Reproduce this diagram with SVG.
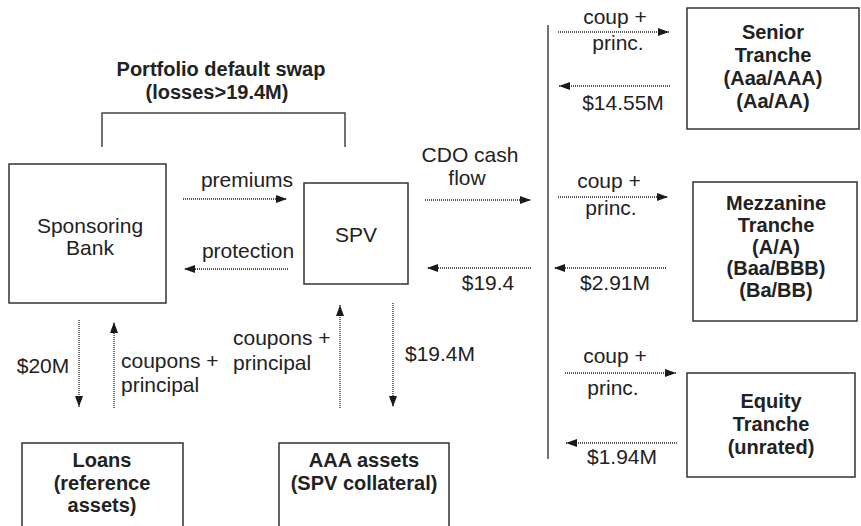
<svg xmlns="http://www.w3.org/2000/svg" width="861" height="526" viewBox="0 0 861 526">
<defs>
<marker id="ah" viewBox="0 0 11 8" refX="11" refY="4" markerWidth="11" markerHeight="8" markerUnits="userSpaceOnUse" orient="auto">
<path d="M0,0 L11,4 L0,8 z" fill="#1a1a1a"/>
</marker>
<style>
.box{fill:#fff;stroke:#333;stroke-width:1.5}
.open{fill:none;stroke:#333;stroke-width:1.5}
.solid{fill:none;stroke:#444;stroke-width:1.5}
.dot{fill:none;stroke:#222;stroke-width:1.3;stroke-dasharray:1 1;marker-end:url(#ah)}
text{font-family:"Liberation Sans",Arial,sans-serif;fill:#222}
.r{font-size:21px}
.b{font-size:20px;font-weight:bold}
.m{text-anchor:middle}
</style>
</defs>
<rect width="861" height="526" fill="#fff"/>

<g id="connectors">
<path class="solid" d="M102,147 V113 H345 V147"/>
<text class="b m" x="221" y="76">Portfolio default swap</text>
<text class="b m" x="217" y="99">(losses&gt;19.4M)</text>
<path class="solid" d="M548,25 V459"/>

<path class="dot" d="M183,199 H287"/>
<text class="r m" x="247" y="187">premiums</text>
<path class="dot" d="M288,269 H184"/>
<text class="r m" x="248" y="258">protection</text>

<path class="dot" d="M425,200 H531"/>
<text class="r m" x="470" y="162">CDO cash</text>
<text class="r m" x="467" y="185">flow</text>
<path class="dot" d="M531,268 H427"/>
<text class="r m" x="488" y="290">$19.4</text>

<path class="dot" d="M558,32 H669"/>
<text class="r m" x="615" y="24">coup +</text>
<text class="r m" x="618" y="50">princ.</text>
<path class="dot" d="M670,86 H559"/>
<text class="r m" x="623" y="110">$14.55M</text>

<path class="dot" d="M558,197 H668"/>
<text class="r m" x="609" y="188">coup +</text>
<text class="r m" x="611" y="215">princ.</text>
<path class="dot" d="M666,268 H554"/>
<text class="r m" x="615" y="290">$2.91M</text>

<path class="dot" d="M565,373 H676"/>
<text class="r m" x="615" y="363">coup +</text>
<text class="r m" x="613" y="395">princ.</text>
<path class="dot" d="M677,443 H566"/>
<text class="r m" x="622" y="464">$1.94M</text>

<path class="dot" d="M79,320 V407"/>
<text class="r m" x="43" y="373">$20M</text>
<path class="dot" d="M114,408 V322"/>
<text class="r" x="121" y="368">coupons +</text>
<text class="r" x="121" y="392">principal</text>
<path class="dot" d="M340,408 V305"/>
<text class="r" x="233" y="345">coupons +</text>
<text class="r" x="233" y="370">principal</text>
<path class="dot" d="M393,303 V407"/>
<text class="r" x="405" y="361">$19.4M</text>
</g>

<g id="bank">
<rect class="box" x="9" y="164" width="157" height="139"/>
<text class="r m" x="90" y="233">Sponsoring</text>
<text class="r m" x="90" y="255">Bank</text>
</g>

<g id="spv">
<rect class="box" x="304" y="183" width="104" height="101"/>
<text class="r m" x="356" y="242">SPV</text>
</g>

<g id="senior">
<rect class="box" x="687" y="8" width="172" height="121"/>
<text class="b m" x="773" y="38.5">Senior</text>
<text class="b m" x="773" y="61.5">Tranche</text>
<text class="b m" x="773" y="84.5">(Aaa/AAA)</text>
<text class="b m" x="773" y="107.5">(Aa/AA)</text>
</g>

<g id="mezzanine">
<rect class="box" x="693" y="182" width="164" height="139"/>
<text class="b m" x="776" y="210">Mezzanine</text>
<text class="b m" x="776" y="232">Tranche</text>
<text class="b m" x="776" y="253.5">(A/A)</text>
<text class="b m" x="776" y="275">(Baa/BBB)</text>
<text class="b m" x="776" y="297">(Ba/BB)</text>
</g>

<g id="equity">
<rect class="box" x="687" y="373" width="168" height="104"/>
<text class="b m" x="771" y="408">Equity</text>
<text class="b m" x="771" y="431">Tranche</text>
<text class="b m" x="771" y="454">(unrated)</text>
</g>

<g id="loans">
<path class="open" d="M22,530 V443 H183 V530"/>
<text class="b m" x="102" y="467">Loans</text>
<text class="b m" x="102" y="490">(reference</text>
<text class="b m" x="102" y="512">assets)</text>
</g>

<g id="aaa">
<path class="open" d="M279,530 V443 H449 V530"/>
<text class="b m" x="364" y="467">AAA assets</text>
<text class="b m" x="364" y="490">(SPV collateral)</text>
</g>
</svg>
